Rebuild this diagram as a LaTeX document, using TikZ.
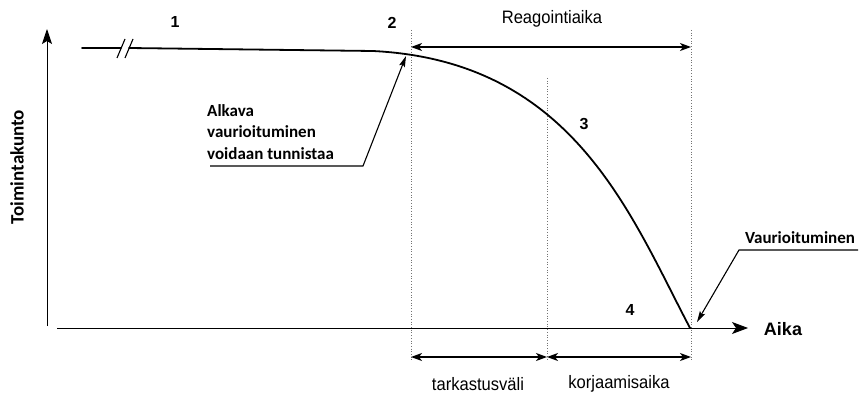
\documentclass[tikz,border=0pt]{standalone}
\usepackage{fontspec}
\setmainfont{Liberation Sans}
\newfontfamily\calib{Carlito}
\newfontfamily\narrowsans[FakeStretch=0.92]{Liberation Sans}
\usetikzlibrary{arrows.meta}
\begin{document}
\begin{tikzpicture}[x=1pt,y=-1pt,
  guide/.style={black!55, dotted, line width=0.7pt},
  axisline/.style={line width=0.9pt},
  curveline/.style={line width=1.8pt, line cap=round, line join=round},
  dimarrow/.style={{Stealth[length=11pt,width=8pt,inset=3pt]}-{Stealth[length=11pt,width=8pt,inset=3pt]}, line width=1.1pt},
  leader/.style={-{Stealth[length=11pt,width=6pt,inset=2pt]}, line width=1.1pt},
  numlabel/.style={font=\bfseries\fontsize{16}{19}\selectfont, inner sep=0pt},
  calllabel/.style={font=\calib\bfseries\fontsize{17}{21.5}\selectfont, inner sep=0pt, align=left},
  plainlabel/.style={font=\narrowsans\fontsize{18}{21}\selectfont, inner sep=0pt}]
\useasboundingbox (0,0) rectangle (860,396);

% axes
\coordinate (yb) at (47,326);
\coordinate (yt) at (47,29);
\coordinate (xb) at (57,328);
\coordinate (xt) at (748,328);
\draw[axisline, -{Stealth[length=15pt,width=10pt,inset=3pt]}] (yb) -- (yt);
\draw[axisline, -{Stealth[length=16pt,width=12pt,inset=4pt]}] (xb) -- (xt);
\node[font=\bfseries\fontsize{18}{21}\selectfont, inner sep=0pt] (aika) at (783,329) {Aika};
\node[font=\calib\bfseries\fontsize{19}{22}\selectfont, inner sep=0pt, rotate=90] (toim) at (17,167) {Toimintakunto};

% guide lines
\coordinate (g1t) at (411,30);  \coordinate (g1b) at (411,360);
\coordinate (g2t) at (547,78);  \coordinate (g2b) at (547,360);
\coordinate (g3t) at (691,30);  \coordinate (g3b) at (691,360);
\draw[guide] (g1t) -- (g1b);
\draw[guide] (g2t) -- (g2b);
\draw[guide] (g3t) -- (g3b);

% condition curve
\coordinate (c0) at (82,48);
\coordinate (c1) at (121,48);
\coordinate (c2) at (129,48);
\coordinate (c3) at (373,51);
\coordinate (c4) at (690,328);
\draw[curveline] (c0) -- (c1);
\draw[line width=1.1pt] (117,58) -- (125,39);
\draw[line width=1.1pt] (125,58) -- (133,39);
\draw[curveline] (c2) -- (c3) .. controls (573,61) and (630,214) .. (c4);

% numbers
\node[numlabel] (n1) at (175,22) {1};
\node[numlabel] (n2) at (392,23) {2};
\node[numlabel] (n3) at (584,124) {3};
\node[numlabel] (n4) at (630,310) {4};

% reaction time
\coordinate (r1) at (411,47);
\coordinate (r2) at (691,47);
\draw[dimarrow] (r1) -- (r2);
\node[plainlabel] (reag) at (552,19) {Reagointiaika};

% bottom intervals
\coordinate (b1) at (411,357);
\coordinate (b2) at (547,357);
\coordinate (b3) at (691,357);
\draw[dimarrow] (b1) -- (b2);
\draw[dimarrow] (b2) -- (b3);
\node[plainlabel] (tark) at (478,384) {tarkastusväli};
\node[plainlabel] (korj) at (619,384) {korjaamisaika};

% callouts
\node[calllabel, anchor=north west] (alk) at (207,104) {Alkava\\vaurioituminen\\voidaan tunnistaa};
\coordinate (a1) at (210,166);
\coordinate (a2) at (363,166);
\coordinate (a3) at (406,56);
\draw[leader] (a1) -- (a2) -- (a3);

\node[calllabel] (vau) at (800,238) {Vaurioituminen};
\coordinate (v1) at (858,250);
\coordinate (v2) at (739,250);
\coordinate (v3) at (697,322);
\draw[leader] (v1) -- (v2) -- (v3);
\end{tikzpicture}
\end{document}
